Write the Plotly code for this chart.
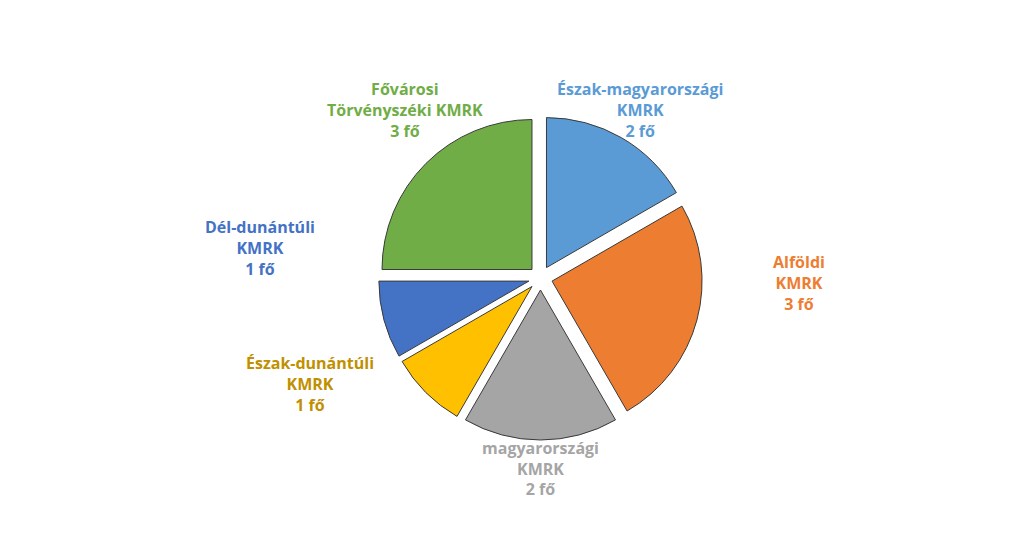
import plotly.graph_objects as go

labels = ["Észak-magyarországi KMRK", "Alföldi KMRK", "Közép-magyarországi KMRK",
          "Észak-dunántúli KMRK", "Dél-dunántúli KMRK", "Fővárosi Törvényszéki KMRK"]
values = [2, 3, 2, 1, 1, 3]
colors = ["#5B9BD5", "#ED7D31", "#A5A5A5", "#FFC000", "#4472C4", "#70AD47"]
text_colors = ["#5B9BD5", "#ED7D31", "#A5A5A5", "#BF9000", "#4472C4", "#70AD47"]
label_text = ["Észak-magyarországi<br>KMRK<br>2 fő", "Alföldi<br>KMRK<br>3 fő",
              "Közép-<br>magyarországi<br>KMRK<br>2 fő", "Észak-dunántúli<br>KMRK<br>1 fő",
              "Dél-dunántúli<br>KMRK<br>1 fő", "Fővárosi<br>Törvényszéki KMRK<br>3 fő"]
label_pos = [(0.70, 0.875), (0.80, 0.49), (0.52, 0.085), (0.23, 0.24),
             (0.19, 0.555), (0.31, 0.875)]

fig = go.Figure(go.Pie(
    labels=labels, values=values, sort=False, direction="clockwise", rotation=0,
    marker=dict(colors=colors, line=dict(color="#3a3a3a", width=1)),
    pull=[0.08] * 6, textinfo="none", hoverinfo="label+value",
    domain=dict(x=[0.2, 0.84], y=[0.2, 0.8])))

for t, c, (x, y) in zip(label_text, text_colors, label_pos):
    fig.add_annotation(x=x, y=y, xref="paper", yref="paper", text="<b>" + t + "</b>",
                       showarrow=False, font=dict(color=c, size=16, family="Open Sans"))

fig.update_layout(width=1024, height=540, margin=dict(l=0, r=0, t=0, b=0),
                  showlegend=False, paper_bgcolor="white")
fig.write_html("out.html")
